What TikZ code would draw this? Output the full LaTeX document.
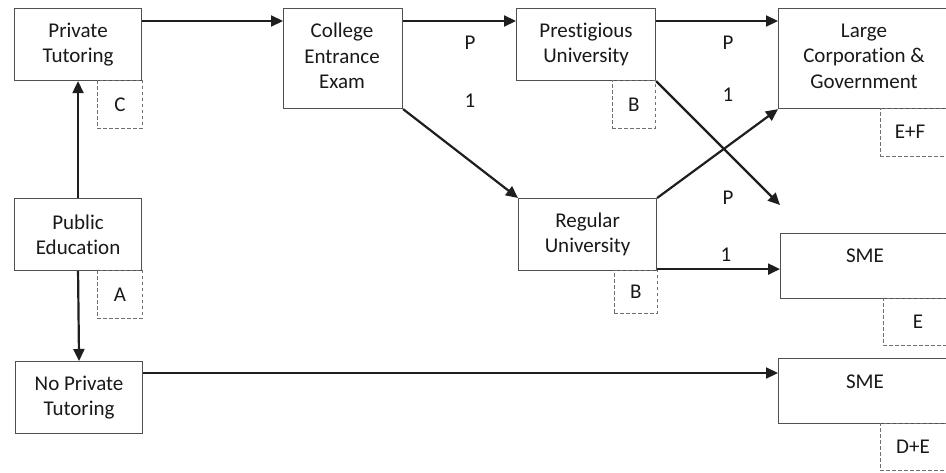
\documentclass[tikz,border=0pt]{standalone}
\usepackage{fontspec}
\setmainfont[Ligatures=NoCommon]{Carlito}
\usetikzlibrary{arrows.meta,calc}
\definecolor{boxgray}{HTML}{505050}
\definecolor{dashgray}{HTML}{707070}
\definecolor{arrblack}{HTML}{1E1E1E}
\begin{document}
\begin{tikzpicture}[x=1pt,y=-1pt,
  every node/.style={font=\fontsize{21}{25.5}\selectfont, text=black!90},
  box/.style={draw=boxgray, line width=1.1pt, fill=white, anchor=north west, align=center, inner sep=0pt},
  dbox/.style={draw=dashgray, line width=0.9pt, dash pattern=on 3.5pt off 2.5pt, anchor=north west, inner sep=0pt},
  arr/.style={draw=arrblack, line width=2.2pt, -{Triangle[length=12pt,width=11pt]}},
  lbl/.style={inner sep=0pt}]
\useasboundingbox (0,0) rectangle (946,472);
\clip (0,0) rectangle (946,472);
% boxes
\node[box, minimum width=127pt, minimum height=72pt] (pt) at (14,8) {Private\\Tutoring};
\node[dbox, minimum width=45pt, minimum height=48pt] (c) at (97,80) {C};
\node[box, minimum width=119pt, minimum height=100pt] (cee) at (283,8) {};
\node[lbl, align=center] (ceet) at (342,56) {College\\Entrance\\Exam};
\node[box, minimum width=139pt, minimum height=72pt] (pu) at (516,8) {Prestigious\\University};
\node[dbox, minimum width=43pt, minimum height=48pt] (b1) at (612,80) {B};
\node[box, minimum width=172pt, minimum height=100pt] (lcg) at (778,8) {};
\node[lbl, align=center] (lcgt) at (864,56) {Large\\Corporation \&\\Government};
\node[dbox, minimum width=70pt, minimum height=48pt] (ef) at (880,108) {};
\node[lbl] (eft) at (910,132) {E+F};
\node[box, minimum width=127pt, minimum height=72pt] (pe) at (14,198) {Public\\Education};
\node[dbox, minimum width=45pt, minimum height=48pt] (a) at (97,270) {A};
\node[box, minimum width=127pt, minimum height=72pt] (npt) at (15,361) {No Private\\Tutoring};
\node[box, minimum width=138pt, minimum height=72pt] (ru) at (518,198) {Regular\\University};
\node[dbox, minimum width=43pt, minimum height=43pt] (b2) at (614,270) {B};
\node[box, minimum width=170pt, minimum height=65pt] (sme1) at (780,233) {};
\node[lbl] (sme1t) at (865,256) {SME};
\node[dbox, minimum width=67pt, minimum height=47pt] (e) at (883,298) {};
\node[lbl] (et) at (918,322) {E};
\node[box, minimum width=172pt, minimum height=65pt] (sme2) at (778,358) {};
\node[lbl] (sme2t) at (865,382) {SME};
\node[dbox, minimum width=70pt, minimum height=47pt] (de) at (880,423) {};
\node[lbl] (det) at (913,447) {D+E};
% labels
\node[lbl] (p1) at (470,43) {P};
\node[lbl] (o1) at (470,101) {1};
\node[lbl] (p2) at (728,43) {P};
\node[lbl] (o2) at (728,95) {1};
\node[lbl] (p3) at (728,198) {P};
\node[lbl] (o3) at (726,255) {1};
% connectors
\coordinate (pufree) at (780,205);
\coordinate (rs) at ($(ru.south east)+(0,-2)$);
\draw[arr] ($(pt.north east)+(0,13)$) -- ($(cee.north west)+(0,13)$);
\draw[arr] ($(cee.north east)+(0,13)$) -- ($(pu.north west)+(0,13)$);
\draw[arr] (cee.south east) -- (ru.north west);
\draw[arr] ($(pu.north east)+(0,13)$) -- ($(lcg.north west)+(0,13)$);
\draw[arr] (pu.south east) -- (pufree);
\draw[arr] (ru.north east) -- (lcg.south west);
\draw[arr] (rs) -- (rs -| sme1.west);
\draw[arr] (pe.north) -- (pt.south);
\draw[arr] (pe.south) -- (npt.north);
\draw[arr] ($(npt.north east)+(0,12)$) -- ($(sme2.north west)+(0,15)$);
\end{tikzpicture}
\end{document}
